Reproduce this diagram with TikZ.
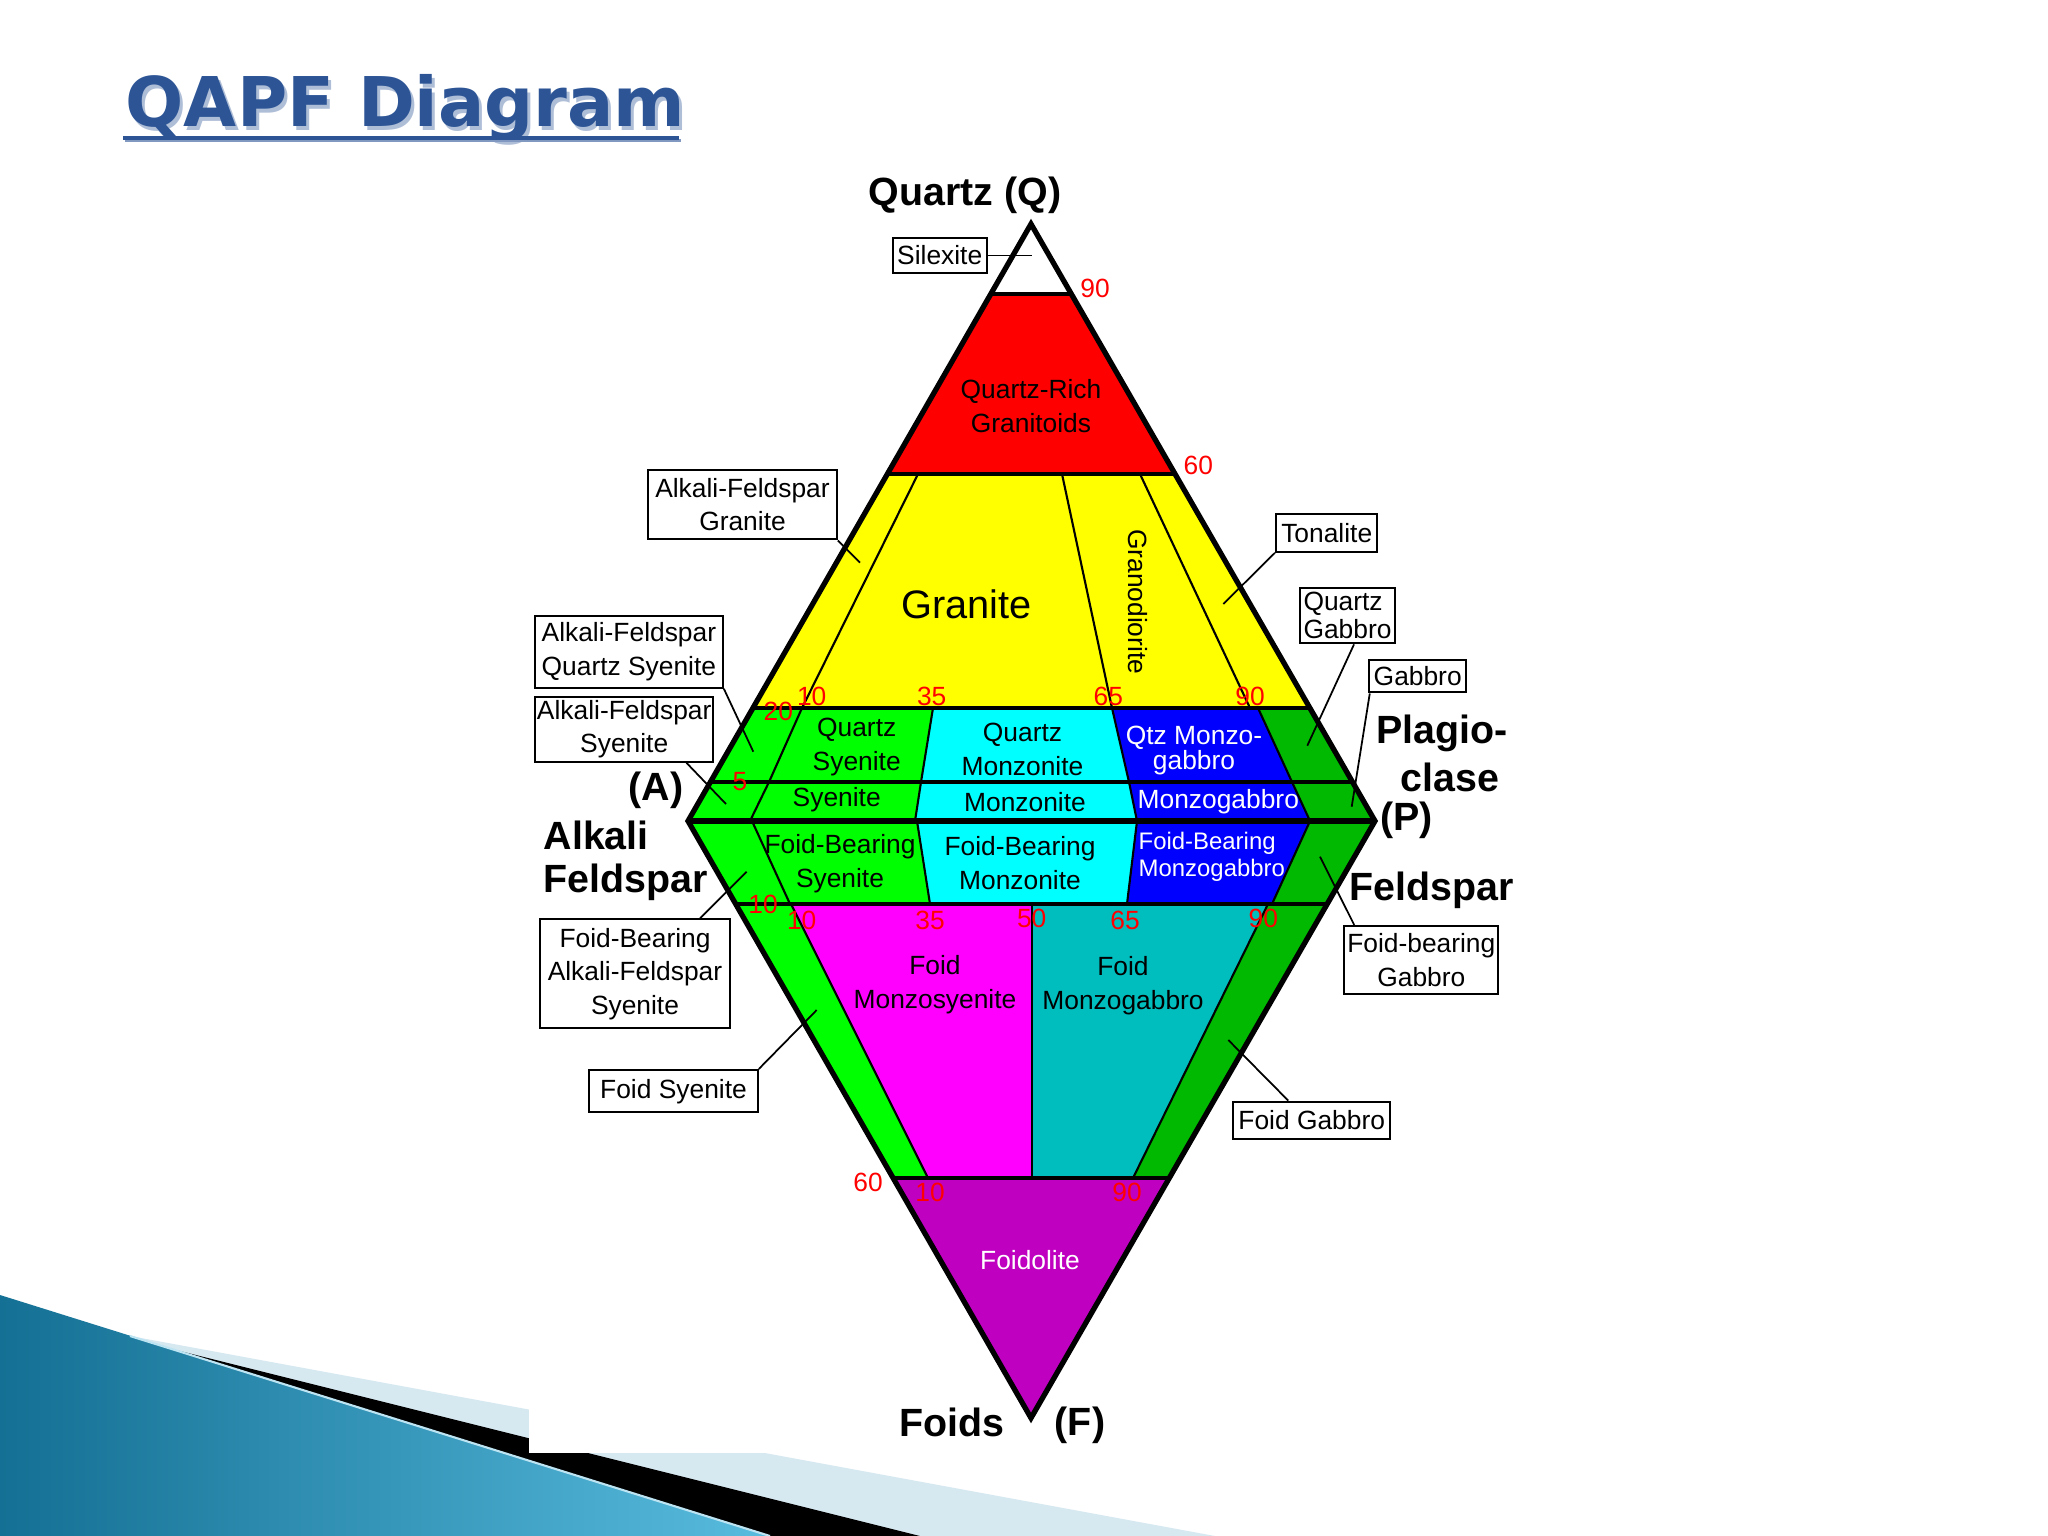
\documentclass[tikz,border=0pt]{standalone}
\usepackage{fontspec}
\setmainfont{Liberation Sans}
\newfontfamily\titlefont{DejaVu Sans}
\usetikzlibrary{calc}
\newcommand\myfs[2]{\fontsize{#1}{#2}\selectfont}
\definecolor{qgreen}{RGB}{0,255,0}
\definecolor{qdgreen}{RGB}{0,185,0}
\definecolor{qteal}{RGB}{0,190,190}
\definecolor{qpurple}{RGB}{192,0,192}
\definecolor{qblue}{RGB}{0,0,255}
\definecolor{qcyan}{RGB}{0,255,255}
\definecolor{qmag}{RGB}{255,0,255}
\definecolor{qred}{RGB}{255,0,0}
\definecolor{qyellow}{RGB}{255,255,0}
\definecolor{numred}{RGB}{255,0,0}
\definecolor{titleblue}{RGB}{45,85,150}
\definecolor{titleshadow}{RGB}{175,190,215}
\definecolor{decoblueA}{RGB}{20,112,148}
\definecolor{decoblueB}{RGB}{88,188,222}
\definecolor{decolight}{RGB}{214,232,240}
\tikzset{
  lbox/.style={draw=black, line width=0.6pt, fill=white, inner sep=0pt, align=center, font=\myfs{7.5}{9.5}},
  num/.style={text=numred, font=\myfs{7.5}{9}, inner sep=0pt},
  reg/.style={align=center, inner sep=0pt, font=\myfs{7.5}{9.6}},
  regw/.style={reg, text=white},
  big/.style={font=\bfseries\myfs{11.2}{13}, inner sep=0pt},
  leader/.style={line width=0.5pt},
  thinline/.style={line width=0.6pt},
  rowline/.style={line width=1pt},
  edge/.style={line width=1.5pt, line join=miter},
}
\begin{document}
\begin{tikzpicture}[x=0.01cm,y=-0.01cm]
\useasboundingbox (0,0) rectangle (2048,1536);
\fill[white] (0,0) rectangle (2048,1536);
% ---- decoration bottom left
\fill[decolight] (0,1312) -- (1215,1536) -- (0,1536) -- cycle;
\fill[black] (0,1306) -- (920,1536) -- (0,1536) -- cycle;
\shade[left color=decoblueA, right color=decoblueB] (0,1295) -- (770,1536) -- (0,1536) -- cycle;
\draw[decoblueB!40!white, line width=0.6pt] (130,1336) -- (770,1536);
\fill[white] (529,1380) rectangle (1450,1453);
% ---- title
\node[anchor=base west, inner sep=0pt, text=titleshadow, font=\titlefont\bfseries\myfs{19.5}{22}] (titlesh) at (128,130) {QAPF Diagram};
\node[anchor=base west, inner sep=0pt, text=titleblue, font=\titlefont\bfseries\myfs{19.5}{22}] (title) at (125,126) {QAPF Diagram};
\draw[titleblue!60!white, line width=1.1pt] (125,140.5) -- (681,140.5);
\draw[titleblue, line width=1.1pt] (123,137.7) -- (679,137.7);
% ---- coordinates
\coordinate (Q) at (1031,224);
\coordinate (A) at (688,821);
\coordinate (P) at (1375,821);
\coordinate (F) at (1031,1418);
\coordinate (L90) at (990.8,294);  \coordinate (R90) at (1071.2,294);
\coordinate (L60) at (887.4,474);  \coordinate (R60) at (1174.6,474);
\coordinate (L20) at (752.9,708);  \coordinate (R20) at (1309.1,708);
\coordinate (L5) at (710.4,782);   \coordinate (R5) at (1351.6,782);
\coordinate (LF10) at (735.7,904); \coordinate (RF10) at (1327.3,904);
\coordinate (LF60) at (893.1,1178);\coordinate (RF60) at (1169.9,1178);
% ---- fills
\fill[white] (Q) -- (R90) -- (L90) -- cycle;
\fill[qred] (L90) -- (R90) -- (R60) -- (L60) -- cycle;
\fill[qyellow] (L60) -- (R60) -- (R20) -- (L20) -- cycle;
\fill[qgreen] (L20) -- (933,708) -- (921,782) -- (915,821) -- (A) -- cycle;
\fill[qcyan] (933,708) -- (1112,708) -- (1129,782) -- (1137,821) -- (915,821) -- (921,782) -- cycle;
\fill[qblue] (1112,708) -- (1258,708) -- (1292,782) -- (1310,821) -- (1137,821) -- (1129,782) -- cycle;
\fill[qdgreen] (1258,708) -- (R20) -- (P) -- (1310,821) -- (1292,782) -- cycle;
\fill[qgreen] (A) -- (917,821) -- (930,904) -- (LF10) -- cycle;
\fill[qcyan] (917,821) -- (1137,821) -- (1127,904) -- (930,904) -- cycle;
\fill[qblue] (1137,821) -- (1310,821) -- (1272,904) -- (1127,904) -- cycle;
\fill[qdgreen] (1310,821) -- (P) -- (RF10) -- (1272,904) -- cycle;
\fill[qgreen] (LF10) -- (791,904) -- (928,1178) -- (LF60) -- cycle;
\fill[qmag] (791,904) -- (1031.7,904) -- (1031.7,1178) -- (928,1178) -- cycle;
\fill[qteal] (1031.7,904) -- (1268,904) -- (1133,1178) -- (1031.7,1178) -- cycle;
\fill[qdgreen] (1268,904) -- (RF10) -- (RF60) -- (1133,1178) -- cycle;
\fill[qpurple] (LF60) -- (RF60) -- (F) -- cycle;
% ---- internal lines
\draw[thinline] (918,474) -- (802,708) -- (769,782) -- (750,821);
\draw[thinline] (1062,474) -- (1112,708);
\draw[thinline] (1140,474) -- (1250,708);
\draw[thinline] (933,708) -- (921,782) -- (915,821);
\draw[thinline] (1112,708) -- (1129,782) -- (1137,821);
\draw[thinline] (1258,708) -- (1292,782) -- (1310,821);
\draw[thinline] (752,821) -- (790,904);
\draw[thinline] (917,821) -- (930,904);
\draw[thinline] (1137,821) -- (1127,904);
\draw[thinline] (1310,821) -- (1272,904);
\draw[thinline] (791,904) -- (928,1178);
\draw[thinline] (1031.7,904) -- (1031.7,1178);
\draw[thinline] (1268,904) -- (1133,1178);
% ---- row lines
\draw[rowline] (L90) -- (R90);
\draw[rowline] (L60) -- (R60);
\draw[rowline] (L20) -- (R20);
\draw[rowline] (L5) -- (R5);
\draw[rowline] (LF10) -- (RF10);
\draw[rowline] (LF60) -- (RF60);
\draw[edge] (A) -- (P);
\draw[edge] (Q) -- (P) -- (F) -- (A) -- cycle;
% ---- region labels
\node[reg] (qrg) at (1031,405.8) {Quartz-Rich\\Granitoids};
\node[reg, font=\myfs{11.3}{13}] (gran) at (966.4,604.7) {Granite};
\node[reg, rotate=-90] (grd) at (1138.3,601.7) {Granodiorite};
\node[reg] (qsy) at (856.7,746.7) {Quartz\\Syenite};
\node[reg] (qmz) at (1022.5,749.2) {Quartz\\Monzonite};
\node[regw, font=\myfs{7.5}{7.2}] (qmg) at (1194,750.8) {Qtz Monzo-\\gabbro};
\node[reg] (sye) at (836.7,800) {Syenite};
\node[reg] (mzn) at (1025,801.7) {Monzonite};
\node[regw] (mzg) at (1218.3,801.7) {Monzogabbro};
\node[reg] (fbs) at (840,863.3) {Foid-Bearing\\Syenite};
\node[reg] (fbm) at (1020,863.3) {Foid-Bearing\\Monzonite};
\node[regw, align=left, anchor=west, font=\myfs{6.8}{7.7}] (fbmg) at (1138,856.7) {Foid-Bearing\\Monzogabbro};
\node[reg, font=\myfs{7.5}{9.7}] (fmzs) at (935,985) {Foid\\Monzosyenite};
\node[reg, font=\myfs{7.5}{9.7}] (fmzg) at (1123,985.8) {Foid\\Monzogabbro};
\node[regw] (fdl) at (1030,1260) {Foidolite};
% ---- red numbers
\node[num] (n1) at (1095,288.3) {90};
\node[num] (n2) at (1198.3,465) {60};
\node[num] (n3) at (811.7,696.7) {10};
\node[num] (n4) at (931.7,696.7) {35};
\node[num] (n5) at (1108.3,696.7) {65};
\node[num] (n6) at (1250,696.7) {90};
\node[num] (n7) at (778.3,711.7) {20};
\node[num] (n8) at (740,781.7) {5};
\node[num] (n9) at (763,904) {10};
\node[num] (n10) at (801.7,920) {10};
\node[num] (n11) at (930,920) {35};
\node[num] (n12) at (1031.7,918) {50};
\node[num] (n13) at (1125,920) {65};
\node[num] (n14) at (1263.3,918.3) {90};
\node[num] (n15) at (868,1182.7) {60};
\node[num] (n16) at (930,1192) {10};
\node[num] (n17) at (1127,1192) {90};
% ---- big corner labels
\node[big] (lq) at (965,195) {Quartz (Q)};
\node[big] (la) at (656,790) {(A)};
\node[big, anchor=west] (lalk) at (543,835) {Alkali};
\node[big, anchor=west] (lfel) at (543,882) {Feldspar};
\node[big] (lpl) at (1441.7,733) {Plagio-};
\node[big] (lcl) at (1450,777) {clase};
\node[big] (lp) at (1406.7,820) {(P)};
\node[big] (lfel2) at (1431.7,890) {Feldspar};
\node[big] (lfo) at (951.7,1422) {Foids};
\node[big] (lf) at (1080,1425) {(F)};
% ---- label boxes
\node[lbox, minimum width=0.94cm, minimum height=0.356cm] (sil) at (939.7,255.5) {Silexite};
\node[lbox, minimum width=1.884cm, minimum height=0.693cm] (afg) at (742.5,504.7) {Alkali-Feldspar\\Granite};
\node[lbox, minimum width=1.877cm, minimum height=0.72cm] (afqs) at (628.9,651.7) {Alkali-Feldspar\\Quartz Syenite};
\node[lbox, minimum width=1.783cm, minimum height=0.65cm] (afs) at (624.2,729.2) {Alkali-Feldspar\\Syenite};
\node[lbox, minimum width=1.013cm, minimum height=0.374cm] (ton) at (1326.7,533) {Tonalite};
\node[lbox, align=left, font=\myfs{7.5}{6.6}, minimum width=0.95cm, minimum height=0.556cm] (qgb) at (1347.5,615.5) {Quartz\\Gabbro};
\node[lbox, minimum width=0.967cm, minimum height=0.323cm] (gab) at (1417.7,676.2) {Gabbro};
\node[lbox, minimum width=1.9cm, minimum height=1.09cm] (fbafs) at (635,973.8) {Foid-Bearing\\Alkali-Feldspar\\Syenite};
\node[lbox, minimum width=1.684cm, minimum height=0.423cm] (fsy) at (673.5,1091.2) {Foid Syenite};
\node[lbox, minimum width=1.54cm, minimum height=0.68cm] (fbg) at (1421.3,960) {Foid-bearing\\Gabbro};
\node[lbox, minimum width=1.567cm, minimum height=0.376cm] (fgb) at (1311.7,1120.5) {Foid Gabbro};
% ---- leaders
\coordinate (t1) at (1031.7,255.5);
\coordinate (t2) at (860,562.7);
\coordinate (t3) at (753.3,751.7);
\coordinate (t4) at (726,804);
\coordinate (t5) at (1223.3,604);
\coordinate (t6) at (1307.3,745.7);
\coordinate (t7) at (1351.7,806.7);
\coordinate (t8) at (746.7,871.7);
\coordinate (t9) at (816.7,1010);
\coordinate (t10) at (1320,856.7);
\coordinate (t11) at (1228.3,1040);
\draw[leader] (sil.east) -- (t1);
\draw[leader] (afg.south east) -- (t2);
\draw[leader] (afqs.south east) -- (t3);
\draw[leader] ([xshift=-0.28cm]afs.south east) -- (t4);
\draw[leader] (ton.south west) -- (t5);
\draw[leader] ([xshift=0.065cm]qgb.south) -- (t6);
\draw[leader] ([xshift=0.015cm]gab.south west) -- (t7);
\draw[leader] ([xshift=0.65cm]fbafs.north) -- (t8);
\draw[leader] (fsy.north east) -- (t9);
\draw[leader] ([xshift=0.11cm]fbg.north west) -- (t10);
\draw[leader] ([xshift=-0.234cm]fgb.north) -- (t11);
\end{tikzpicture}
\end{document}
